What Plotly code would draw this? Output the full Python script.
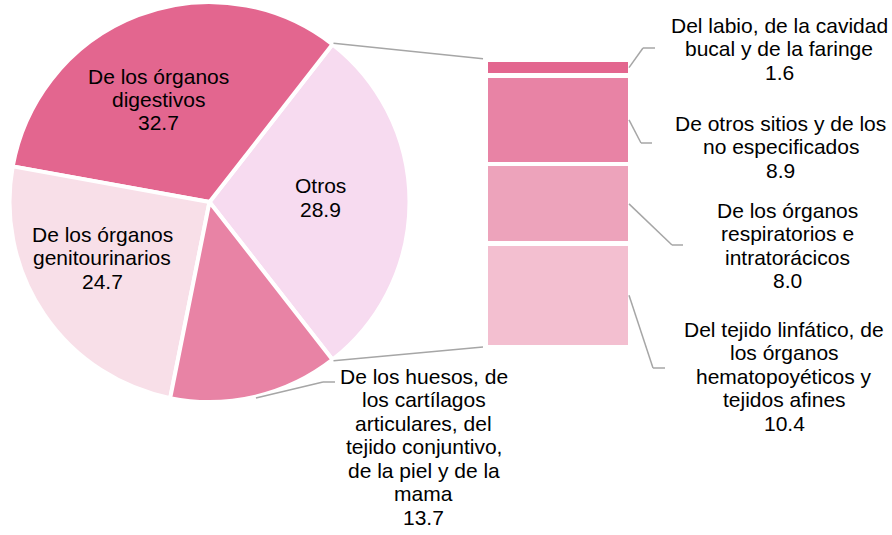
import math
import plotly.graph_objects as go

W, H = 892, 535

# ---- data ----
pie_labels = ["Otros", "De los órganos digestivos", "De los órganos genitourinarios",
              "De los huesos, de los cartílagos articulares, del tejido conjuntivo, de la piel y de la mama"]
pie_values = [28.9, 32.7, 24.7, 13.7]
pie_colors = ["#F7DBF0", "#E3668F", "#F8DFE8", "#E883A5"]

bar_labels = ["Del tejido linfático, de los órganos hematopoyéticos y tejidos afines",
              "De los órganos respiratorios e intratorácicos",
              "De otros sitios y de los no especificados",
              "Del labio, de la cavidad bucal y de la faringe"]
bar_values = [10.4, 8.0, 8.9, 1.6]
bar_colors = ["#F3BFD0", "#EDA3BB", "#E883A5", "#E3668F"]

# label text lines (as wrapped in the original)
pie_text_lines = [
    ["Otros", "28.9"],
    ["De los órganos", "digestivos", "32.7"],
    ["De los órganos", "genitourinarios", "24.7"],
    ["De los huesos, de", "los cartílagos", "articulares, del", "tejido conjuntivo,",
     "de la piel y de la", "mama", "13.7"],
]
bar_text_lines = [
    ["Del tejido linfático, de", "los órganos", "hematopoyéticos y", "tejidos afines", "10.4"],
    ["De los órganos", "respiratorios e", "intratorácicos", "8.0"],
    ["De otros sitios y de los", "no especificados", "8.9"],
    ["Del labio, de la cavidad", "bucal y de la faringe", "1.6"],
]

# ---- layout geometry (pixels) ----
PIE_CX, PIE_CY, PIE_R = 209.5, 202.0, 200.0
BAR_X0, BAR_X1, BAR_TOP, BAR_BOT = 486.0, 630.0, 59.7, 347.0
FONT = dict(family="Liberation Sans, Arial, sans-serif", size=21, color="#000000")
LINE_H = 23.5
GREY = "#A6A6A6"


def px(x):
    return x / W


def py(y):
    return 1 - y / H


fig = go.Figure()

total_other = pie_values[0]
half_deg = 180 * total_other / sum(pie_values)
rotation = 90 - half_deg

fig.add_trace(go.Pie(
    labels=pie_labels, values=pie_values, sort=False, direction="counterclockwise",
    rotation=rotation, textinfo="none", hoverinfo="label+value",
    marker=dict(colors=pie_colors, line=dict(color="white", width=4)),
    domain=dict(x=[px(PIE_CX - PIE_R), px(PIE_CX + PIE_R)],
                y=[py(PIE_CY + PIE_R), py(PIE_CY - PIE_R)]),
    showlegend=False,
))

for lab, val, col in zip(bar_labels, bar_values, bar_colors):
    fig.add_trace(go.Bar(
        x=[0.5], y=[val], width=[1], name=lab, marker=dict(color=col, line=dict(color="white", width=4.5)),
        showlegend=False, hoverinfo="name+y",
    ))

fig.update_layout(
    width=W, height=H, margin=dict(l=0, r=0, t=0, b=0),
    paper_bgcolor="white", plot_bgcolor="rgba(0,0,0,0)", barmode="stack",
    xaxis=dict(domain=[px(BAR_X0), px(BAR_X1)], range=[0, 1], visible=False, fixedrange=True),
    yaxis=dict(domain=[py(BAR_BOT), py(BAR_TOP)], range=[0, sum(bar_values)], visible=False, fixedrange=True),
)

shapes = []
annotations = []


def bar_y_pix(v):
    return BAR_BOT - (BAR_BOT - BAR_TOP) * v / sum(bar_values)


def line(x0, y0, x1, y1):
    shapes.append(dict(type="line", xref="paper", yref="paper", x0=px(x0), y0=py(y0),
                       x1=px(x1), y1=py(y1), line=dict(color=GREY, width=1.5)))


def text_block(cx, ys, lines):
    for yy, t in zip(ys, lines):
        annotations.append(dict(xref="paper", yref="paper", x=px(cx), y=py(yy), text=t,
                                showarrow=False, xanchor="center", yanchor="middle", font=FONT))


# connector lines from pie "Otros" edges to bar
half = math.radians(half_deg)
rr = PIE_R + 1.5
line(PIE_CX + rr * math.cos(half), PIE_CY - rr * math.sin(half), BAR_X0 - 3, BAR_TOP - 1)
line(PIE_CX + rr * math.cos(half), PIE_CY + rr * math.sin(half), BAR_X0 - 3, BAR_BOT)

# leader for huesos slice
hv = pie_values[3]
mid_h = -half - math.pi * hv / sum(pie_values)
sx, sy = PIE_CX + rr * math.cos(mid_h), PIE_CY - rr * math.sin(mid_h)
line(sx, sy, 323, 382)
line(323, 382, 335, 382)

# bar segment leaders
elbows = [(653, 368, 665), (672, 245, 683), (641, 143, 652), (643, 48, 655)]
cum = 0
for v, (ex, ey, hx) in zip(bar_values, elbows):
    mid = bar_y_pix(cum + v / 2)
    cum += v
    line(BAR_X1 - 1, mid, ex, ey)
    line(ex, ey, hx, ey)


# text
def ys_from(y0, n):
    return [y0 + i * LINE_H for i in range(n)]


text_block(320, ys_from(186, 2), pie_text_lines[0])
text_block(158, ys_from(76, 3), pie_text_lines[1])
text_block(102, ys_from(234, 3), pie_text_lines[2])
text_block(423.5, ys_from(376, 7), pie_text_lines[3])

text_block(784, ys_from(329, 5), bar_text_lines[0])
text_block(787.5, ys_from(210, 4), bar_text_lines[1])
text_block(780.5, ys_from(123.5, 3), bar_text_lines[2])
text_block(779, ys_from(25, 3), bar_text_lines[3])

fig.update_layout(shapes=shapes, annotations=annotations)
fig.write_html("out.html", config={"displayModeBar": False},
               post_script="document.body.style.margin='0';document.body.style.padding='0';")
